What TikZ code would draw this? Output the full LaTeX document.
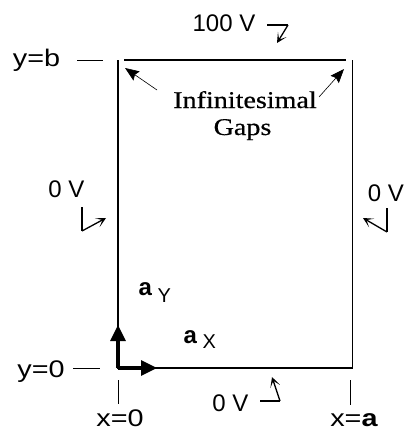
\documentclass[tikz,border=0pt]{standalone}
\usepackage{fontspec}
\setmainfont{Liberation Sans}
\newfontfamily\widesans[FakeStretch=1.2]{Liberation Sans}
\newfontfamily\gapfont[FakeStretch=1.17,FakeBold=0.6]{Liberation Serif}
\usetikzlibrary{arrows.meta}
\begin{document}
\begin{tikzpicture}[x=1pt,y=-1pt,
  wire/.style={line width=1.4pt},
  tickline/.style={line width=1pt},
  lbl/.style={inner sep=0pt,font=\fontsize{24}{28}\selectfont},
  axlbl/.style={inner sep=0pt,font=\widesans\fontsize{24}{28}\selectfont},
  sub/.style={inner sep=0pt,font=\fontsize{20}{22}\selectfont},
  gaptext/.style={inner sep=0pt,font=\gapfont\fontsize{24}{27}\selectfont},
  pol/.style={line width=1.2pt},
  polarrow/.style={line width=1.3pt,-{Stealth[length=10pt,width=10pt,inset=6pt]}},
  gaparrow/.style={line width=0.6pt,-{Stealth[length=14pt,width=11pt,inset=2pt]}},
  unitv/.style={line width=3.2pt,-{Triangle[length=16pt,width=15pt]}}]
\useasboundingbox (0,0) rectangle (404,431);
% rectangle corners
\coordinate (O) at (118,368);
\coordinate (TL) at (118,60);
\coordinate (TLs) at (124,60);
\coordinate (TRe) at (346,60);
\coordinate (TR) at (352.5,60);
\coordinate (BR) at (352.5,368);
\draw[wire] (TL) -- (O) -- (BR) -- (TR);
\draw[wire] (TLs) -- (TRe);
% unit vectors
\coordinate (axtip) at (157,368);
\coordinate (aytip) at (118,325);
\draw[unitv] (O) -- (axtip);
\draw[unitv] (O) -- (aytip);
\node[lbl,anchor=base west] (ay) at (138.5,295) {\textbf{a}};
\node[sub,anchor=base west] (ays) at (157.5,302) {Y};
\node[lbl,anchor=base west] (ax) at (183.5,343) {\textbf{a}};
\node[sub,anchor=base west] (axs) at (202.5,348) {X};
% axis labels and ticks
\node[axlbl,anchor=base] (yb) at (36.5,66) {y=b};
\coordinate (ybA) at (77,60); \coordinate (ybB) at (103,60);
\draw[tickline] (ybA) -- (ybB);
\node[axlbl,anchor=base] (y0) at (41,377) {y=0};
\coordinate (y0A) at (73,368); \coordinate (y0B) at (100,368);
\draw[tickline] (y0A) -- (y0B);
\node[axlbl,anchor=base] (x0) at (120,426) {x=0};
\coordinate (x0A) at (118,380); \coordinate (x0B) at (118,404);
\draw[tickline] (x0A) -- (x0B);
\node[axlbl,anchor=base] (xa) at (354,426) {x=\textbf{a}};
\coordinate (xaA) at (350,380); \coordinate (xaB) at (350,405);
\draw[tickline] (xaA) -- (xaB);
% voltages
\node[lbl,anchor=base] (v100) at (224,31) {100 V};
\coordinate (p1a) at (267,25); \coordinate (p1b) at (288,25); \coordinate (p1c) at (277,43);
\draw[pol] (p1a) -- (p1b);
\draw[polarrow] (p1b) -- (p1c);
\node[lbl,anchor=base] (vleft) at (66.5,197) {0 V};
\coordinate (p2a) at (82,207); \coordinate (p2b) at (82,231); \coordinate (p2c) at (106,218);
\draw[pol] (p2a) -- (p2b);
\draw[polarrow] (p2b) -- (p2c);
\node[lbl,anchor=base] (vright) at (386,201.5) {0 V};
\coordinate (p3a) at (387,208); \coordinate (p3b) at (387,232); \coordinate (p3c) at (363,218);
\draw[pol] (p3a) -- (p3b);
\draw[polarrow] (p3b) -- (p3c);
\node[lbl,anchor=base] (vbot) at (230.5,411.5) {0 V};
\coordinate (p4a) at (260,401); \coordinate (p4b) at (280,401); \coordinate (p4c) at (272,377);
\draw[pol] (p4a) -- (p4b);
\draw[polarrow] (p4b) -- (p4c);
% gaps
\node[gaptext,anchor=base] (gapsA) at (245,108) {Infinitesimal};
\node[gaptext,anchor=base] (gapsB) at (242.5,135) {Gaps};
\coordinate (glA) at (157,90); \coordinate (glB) at (125,68);
\coordinate (grA) at (319,97); \coordinate (grB) at (344,69);
\draw[gaparrow] (glA) -- (glB);
\draw[gaparrow] (grA) -- (grB);
\end{tikzpicture}
\end{document}
